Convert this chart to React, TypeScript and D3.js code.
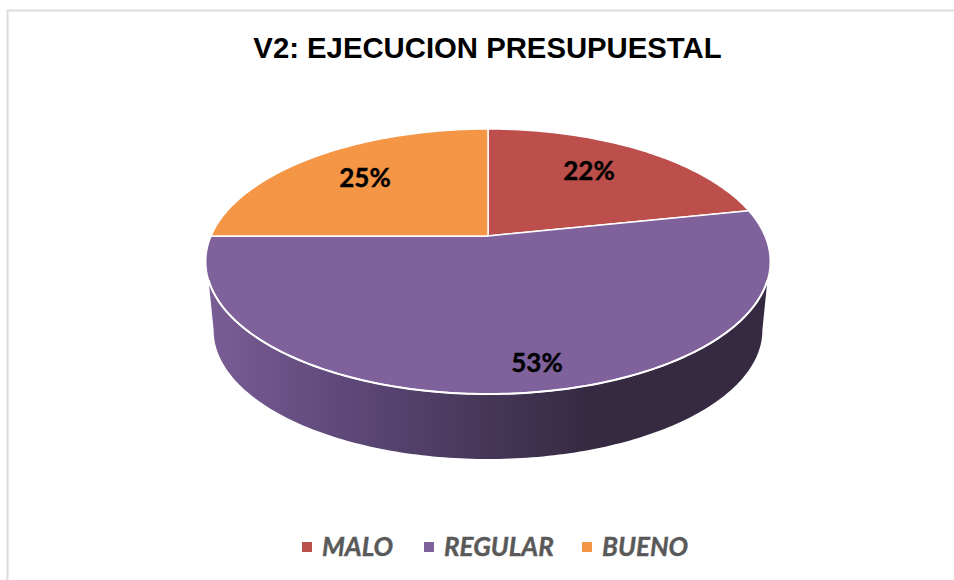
import React from "react";
import * as d3 from "d3";

const categories = ["MALO", "REGULAR", "BUENO"];
const values = [21.7, 53.3, 25];
const labels = ["22%", "53%", "25%"];
const colors = ["#bc4e4c", "#7f619c", "#f59646"];

const width = 954;
const height = 580;

// apex of the pie on the page, and the tilt of the disc
const apex = { x: 488, y: 236 };
const a = 277; // half width through the apex
const b = 127.6;
const k = 0.1925; // perspective

// unit circle -> page, angle measured clockwise from 12 o'clock
const project = (t: number): [number, number] => {
  const u = Math.sin(t);
  const v = -Math.cos(t);
  const w = 1 - k * v;
  return [apex.x + (a * u) / w, apex.y + (b * v) / w];
};

// the underside of the disc: same rim, a bit smaller and lower
const projectBottom = (t: number): [number, number] => {
  const [x, y] = project(t);
  const s = 0.972;
  return [apex.x + (x - apex.x) * s, 330.2 + (y - 261.5) * s];
};

const line = d3.line();
const rad = (deg: number) => (deg * Math.PI) / 180;

function arcPoints(t0: number, t1: number, fn: (t: number) => [number, number]) {
  const n = Math.max(2, Math.ceil(Math.abs(t1 - t0) * 60));
  return d3.range(n + 1).map((i) => fn(t0 + ((t1 - t0) * i) / n));
}

export default function App() {
  const pie = d3.pie<number>().sort(null)(values);

  // visible part of the side wall, right rim round to left rim
  const rimFront = arcPoints(rad(109), rad(251), project);
  const wall =
    line([...rimFront, ...arcPoints(rad(259), rad(101), projectBottom)]) + "Z";

  const legendX = d3
    .scaleOrdinal<string, number>()
    .domain(categories)
    .range([302, 424, 582]);

  const labelAt = [
    [589, 171],
    [537, 363],
    [365, 178],
  ];

  return (
    <svg
      width={width}
      height={height}
      style={{ position: "absolute", left: 0, top: 0, background: "#fff" }}
    >
      <defs>
        <linearGradient id="wallFill" gradientUnits="userSpaceOnUse" x1={207} x2={769} y1={0} y2={0}>
          <stop offset="0" stopColor="#7a5d96" />
          <stop offset="0.25" stopColor="#5e4878" />
          <stop offset="0.45" stopColor="#4a3a5e" />
          <stop offset="0.68" stopColor="#352a42" />
          <stop offset="1" stopColor="#352a42" />
        </linearGradient>
      </defs>

      <path d={`M7.5,580V10.5H954`} fill="none" stroke="#dcdcdc" strokeWidth={2} />

      <text
        x={487.5}
        y={57.5}
        textAnchor="middle"
        fontFamily="'Liberation Sans', Arial, sans-serif"
        fontWeight="bold"
        fontSize={29.3}
        fill="#000"
      >
        V2: EJECUCION PRESUPUESTAL
      </text>

      <path d={wall} fill="url(#wallFill)" />

      {pie.map((d, i) => (
        <path
          key={categories[i]}
          d={
            line([
              [apex.x, apex.y],
              ...arcPoints(d.startAngle, d.endAngle, project),
            ]) + "Z"
          }
          fill={colors[i]}
          stroke="#fff"
          strokeWidth={1.5}
          strokeLinejoin="round"
        />
      ))}

      <path d={line(rimFront) ?? ""} fill="none" stroke="#fff" strokeWidth={2} />

      {labels.map((l, i) => (
        <text
          key={l}
          x={labelAt[i][0]}
          y={labelAt[i][1]}
          dy="0.35em"
          textAnchor="middle"
          fontFamily="Lato, sans-serif"
          fontWeight="bold"
          fontSize={26}
          fill="#000"
          stroke="#000"
          strokeWidth={0.4}
        >
          {l}
        </text>
      ))}

      {categories.map((c, i) => (
        <g key={c} transform={`translate(${legendX(c)},542)`}>
          <rect width={10} height={10} fill={colors[i]} />
          <text
            x={20}
            y={5}
            dy="0.35em"
            fontFamily="Lato, sans-serif"
            fontWeight="bold"
            fontStyle="italic"
            fontSize={26}
            fill="#595959"
            stroke="#595959"
            strokeWidth={0.4}
          >
            {c}
          </text>
        </g>
      ))}
    </svg>
  );
}
